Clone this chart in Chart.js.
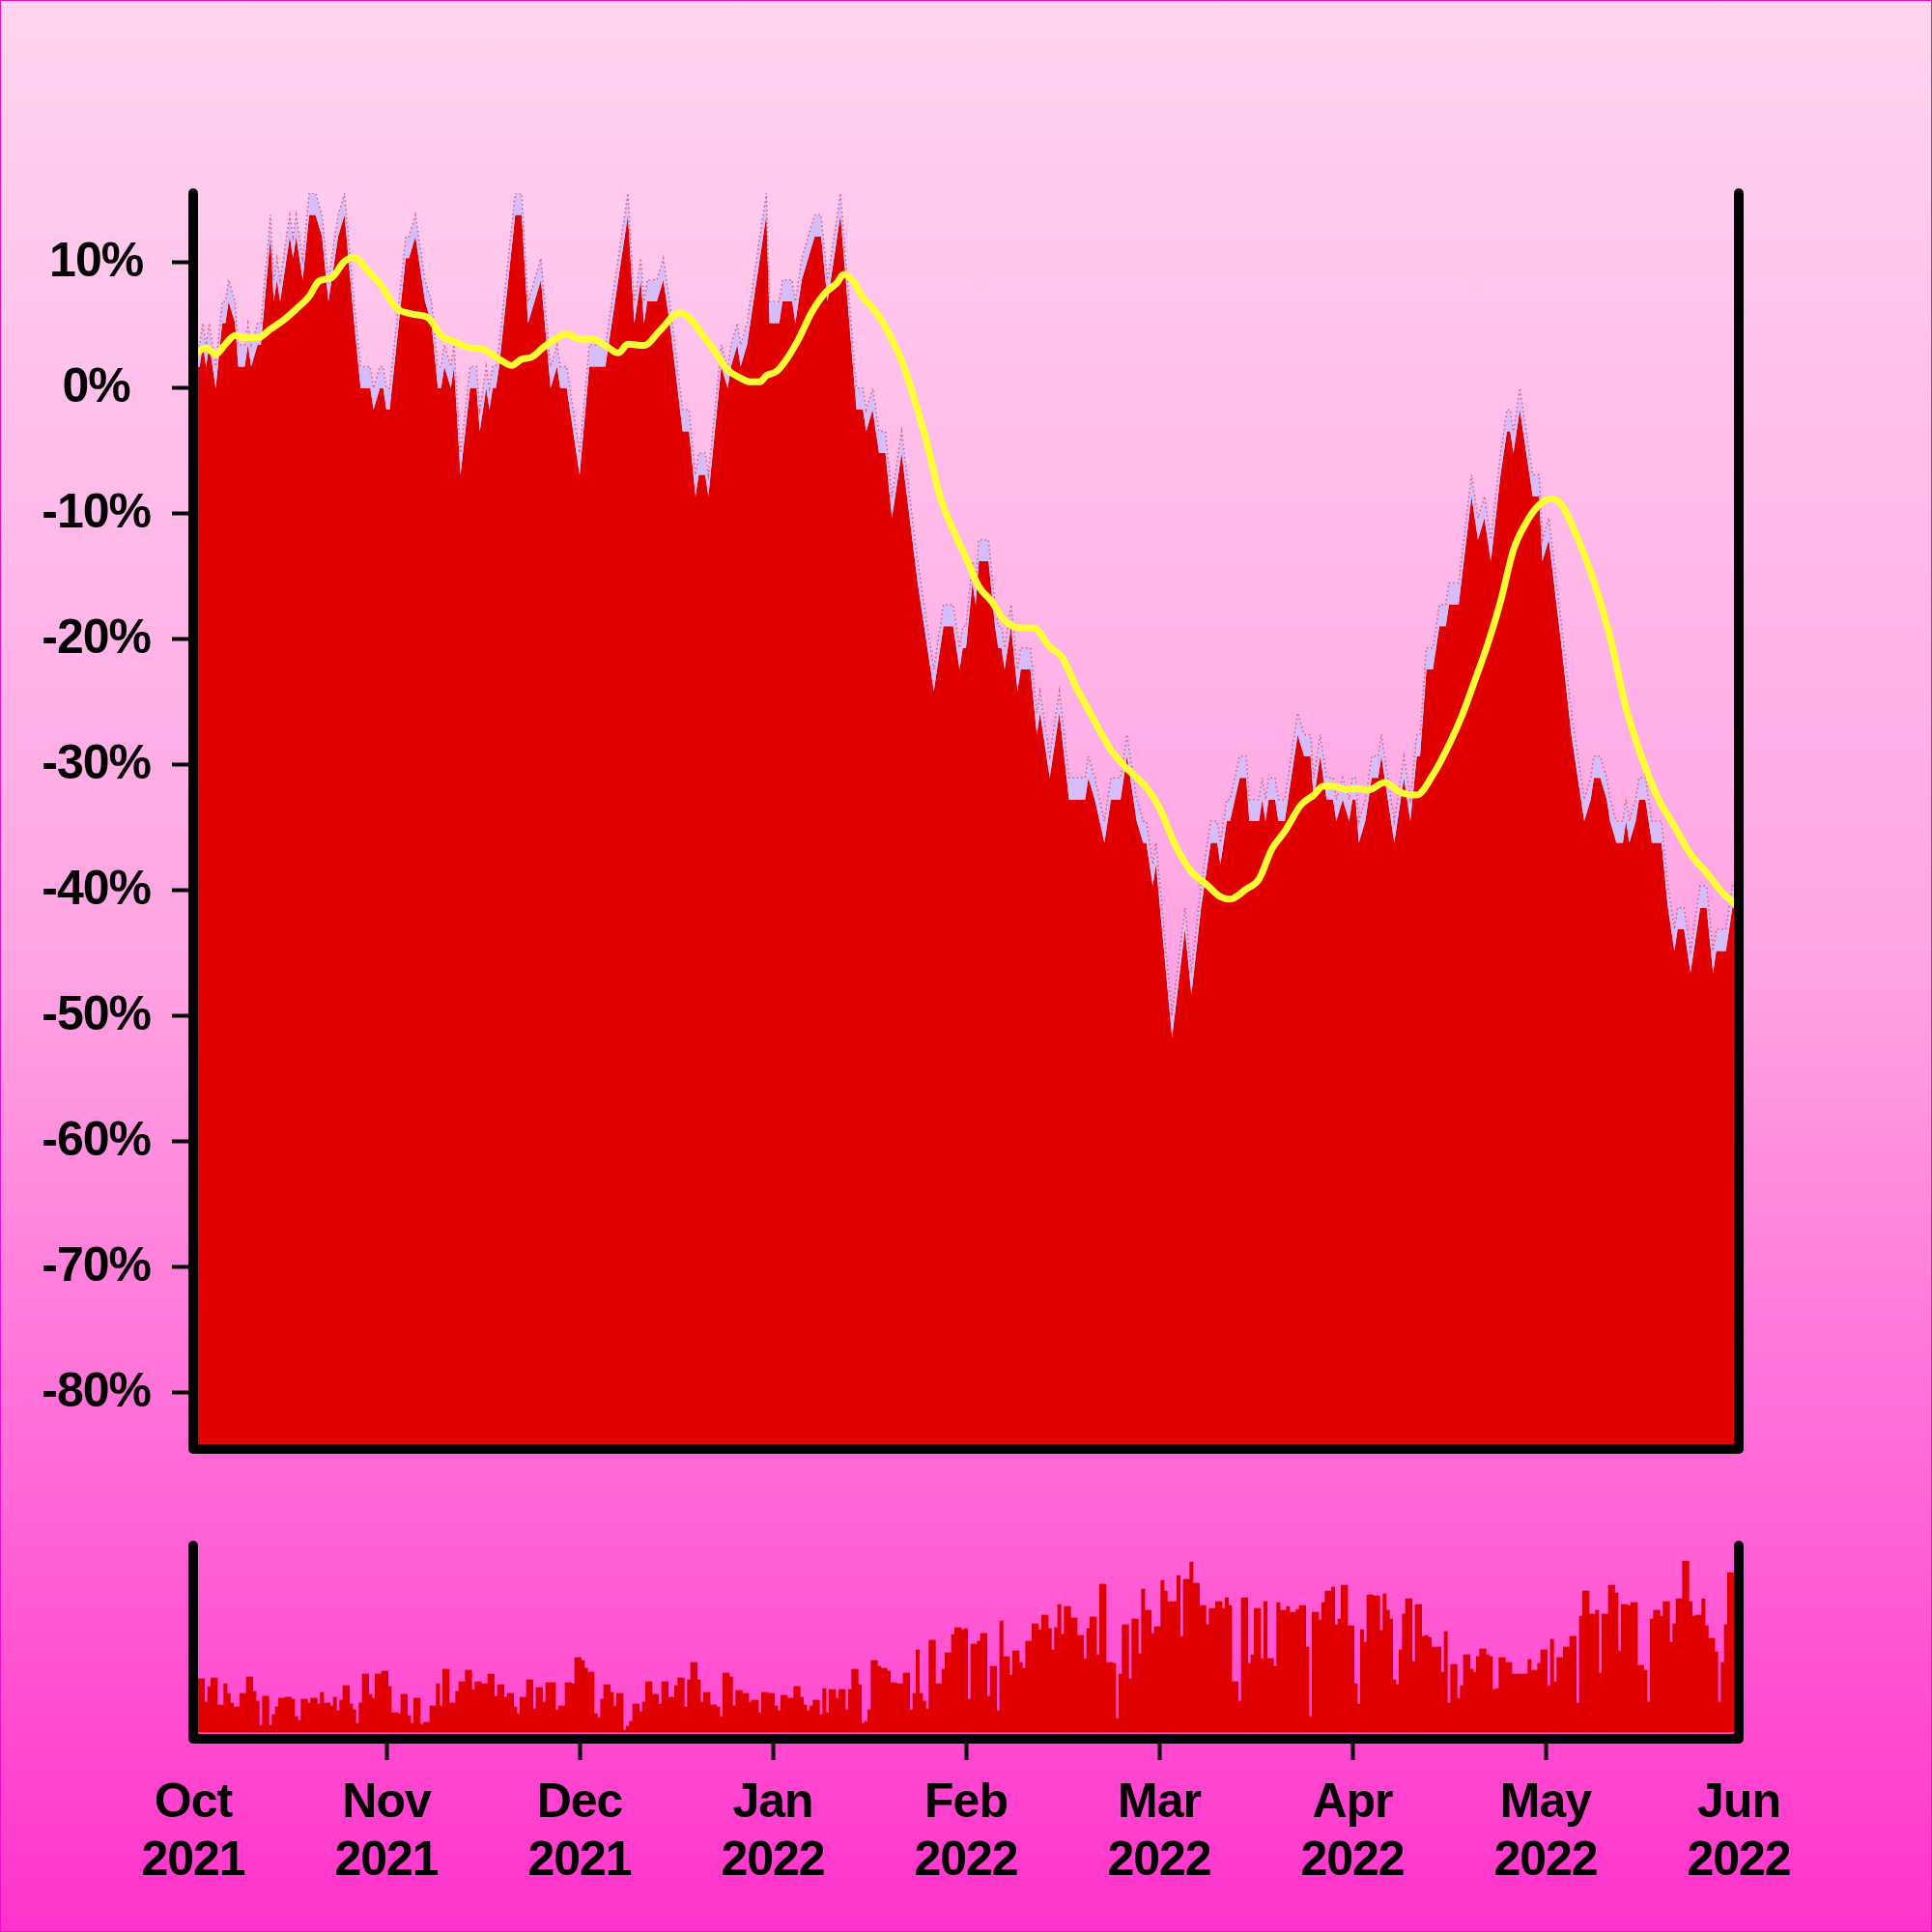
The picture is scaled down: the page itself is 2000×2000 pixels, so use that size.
<!DOCTYPE html>
<html><head><meta charset="utf-8">
<script src="https://cdn.jsdelivr.net/npm/chart.js@4.4.0/dist/chart.umd.min.js"></script>
<style>
html,body{margin:0;padding:0;}
#wrap{position:relative;width:2000px;height:2000px;background:linear-gradient(to bottom,#ffd4f0 0%,#ffa4e3 50%,#ff33cc 100%);overflow:hidden}
canvas{position:absolute;left:0;top:0}
#frame{position:absolute;left:0;top:0;width:2000px;height:2000px;box-sizing:border-box;border:1px solid #ee10c8;pointer-events:none}
</style></head><body>
<div id="wrap"><canvas id="c1" width="2000" height="2000"></canvas><canvas id="c2" width="2000" height="2000"></canvas><div id="frame"></div></div>
<script>
const yTicks = [10,0,-10,-20,-30,-40,-50,-60,-70,-80];
const xTickIdx = [0,60,120,180,240,300,360,420,480];
const xTickLabels = [["Oct","2021"],["Nov","2021"],["Dec","2021"],["Jan","2022"],["Feb","2022"],["Mar","2022"],["Apr","2022"],["May","2022"],["Jun","2022"]];

// vertices of the high / low band (index = half-day step from 1 Oct 2021)
const hiIdx = [0,2,3,4,5,7,9,10,11,13,14,16,17,18,20,21,24,25,26,27,
30,31,32,34,36,38,40,42,43,44,45,47,50,52,55,56,58,59,60,61,
66,67,69,72,74,76,77,78,80,81,83,86,88,89,91,92,93,94,95,100,
102,104,106,108,111,113,114,116,118,120,123,128,130,133,135,137,139,140,141,144,
146,148,152,154,156,157,159,160,164,166,167,169,170,172,174,178,179,182,183,186,
187,188,189,191,193,195,197,198,201,206,208,209,211,213,215,217,220,225,229,230,
233,236,238,239,240,242,243,244,247,249,250,251,252,254,256,257,260,262,263,266,
267,269,272,277,278,280,283,285,288,290,293,295,296,298,299,304,308,310,313,316,
318,319,321,322,325,327,328,331,332,333,334,336,337,339,340,343,345,347,348,350,
352,354,355,357,359,360,361,362,364,366,368,369,372,373,376,378,380,381,383,385,
387,389,390,393,397,399,401,403,406,408,409,410,412,416,418,419,421,425,428,431,
432,434,435,437,439,440,442,444,445,446,448,449,451,453,456,458,460,461,463,465,
466,468,470,472,473,476,478,480];
const hiVal = [3.45,3.45,5.17,3.45,5.17,1.72,6.90,6.90,8.62,6.90,3.45,3.45,5.17,3.45,5.17,5.17,13.79,8.62,10.34,8.62,
13.79,12.07,13.79,10.34,15.52,15.52,13.79,8.62,10.34,12.07,13.79,15.52,6.90,1.72,1.72,0,1.72,1.72,0,0,
12.07,12.07,13.79,8.62,6.90,1.72,1.72,3.45,1.72,3.45,-5.17,1.72,1.72,-1.72,1.72,0,1.72,1.72,3.45,15.52,
15.52,6.90,8.62,10.34,1.72,3.45,1.72,1.72,-1.72,-5.17,3.45,3.45,6.90,12.07,15.52,6.90,10.34,6.90,8.62,8.62,
10.34,6.90,-1.72,-1.72,-6.90,-5.17,-5.17,-6.90,3.45,1.72,3.45,5.17,3.45,5.17,8.62,15.52,6.90,6.90,8.62,8.62,
6.90,8.62,10.34,12.07,13.79,13.79,8.62,10.34,15.52,0,0,-1.72,0,-3.45,-3.45,-8.62,-3.45,-13.79,-20.69,-22.41,
-17.24,-17.24,-20.69,-18.97,-18.97,-13.79,-15.52,-12.07,-12.07,-17.24,-18.97,-18.97,-20.69,-17.24,-22.41,-20.69,-20.69,-25.86,-24.14,-29.31,
-27.59,-24.14,-31.03,-31.03,-29.31,-31.03,-34.48,-31.03,-31.03,-27.59,-32.76,-34.48,-34.48,-37.93,-36.21,-50.00,-41.38,-46.55,-39.66,-34.48,
-34.48,-36.21,-32.76,-32.76,-29.31,-29.31,-32.76,-32.76,-31.03,-32.76,-31.03,-31.03,-32.76,-32.76,-31.03,-25.86,-27.59,-27.59,-31.03,-27.59,
-31.03,-31.03,-32.76,-31.03,-32.76,-31.03,-31.03,-34.48,-32.76,-29.31,-29.31,-27.59,-32.76,-34.48,-29.31,-32.76,-27.59,-27.59,-20.69,-20.69,
-17.24,-17.24,-15.52,-15.52,-6.90,-10.34,-8.62,-12.07,-5.17,-1.72,-1.72,-3.45,0,-6.90,-6.90,-12.07,-10.34,-18.97,-25.86,-31.03,
-32.76,-31.03,-29.31,-29.31,-31.03,-32.76,-34.48,-34.48,-32.76,-34.48,-32.76,-31.03,-31.03,-34.48,-34.48,-39.66,-43.10,-41.38,-41.38,-44.83,
-43.10,-39.66,-39.66,-44.83,-43.10,-43.10,-39.66,-39.66];
const loVal = [1.72,1.72,3.45,1.72,3.45,0,5.17,5.17,6.90,5.17,1.72,1.72,3.45,1.72,3.45,3.45,12.07,6.90,8.62,6.90,
12.07,10.34,12.07,8.62,13.79,13.79,12.07,6.90,8.62,10.34,12.07,13.79,5.17,0,0,-1.72,0,0,-1.72,-1.72,
10.34,10.34,12.07,6.90,5.17,0,0,1.72,0,1.72,-6.90,0,0,-3.45,0,-1.72,0,0,1.72,13.79,
13.79,5.17,6.90,8.62,0,1.72,0,0,-3.45,-6.90,1.72,1.72,5.17,10.34,13.79,5.17,8.62,5.17,6.90,6.90,
8.62,5.17,-3.45,-3.45,-8.62,-6.90,-6.90,-8.62,1.72,0,1.72,3.45,1.72,3.45,6.90,13.79,5.17,5.17,6.90,6.90,
5.17,6.90,8.62,10.34,12.07,12.07,6.90,8.62,13.79,-1.72,-1.72,-3.45,-1.72,-5.17,-5.17,-10.34,-5.17,-15.52,-22.41,-24.14,
-18.97,-18.97,-22.41,-20.69,-20.69,-15.52,-17.24,-13.79,-13.79,-18.97,-20.69,-20.69,-22.41,-18.97,-24.14,-22.41,-22.41,-27.59,-25.86,-31.03,
-29.31,-25.86,-32.76,-32.76,-31.03,-32.76,-36.21,-32.76,-32.76,-29.31,-34.48,-36.21,-36.21,-39.66,-37.93,-51.72,-43.10,-48.28,-41.38,-36.21,
-36.21,-37.93,-34.48,-34.48,-31.03,-31.03,-34.48,-34.48,-32.76,-34.48,-32.76,-32.76,-34.48,-34.48,-32.76,-27.59,-29.31,-29.31,-32.76,-29.31,
-32.76,-32.76,-34.48,-32.76,-34.48,-32.76,-32.76,-36.21,-34.48,-31.03,-31.03,-29.31,-34.48,-36.21,-31.03,-34.48,-29.31,-29.31,-22.41,-22.41,
-18.97,-18.97,-17.24,-17.24,-8.62,-12.07,-10.34,-13.79,-6.90,-3.45,-3.45,-5.17,-1.72,-8.62,-8.62,-13.79,-12.07,-20.69,-27.59,-32.76,
-34.48,-32.76,-31.03,-31.03,-32.76,-34.48,-36.21,-36.21,-34.48,-36.21,-34.48,-32.76,-32.76,-36.21,-36.21,-41.38,-44.83,-43.10,-43.10,-46.55,
-44.83,-41.38,-41.38,-46.55,-44.83,-44.83,-41.38,-41.38];

// moving average (yellow)
const maIdx = [0,4,7,10,13,16,20,24,28,32,36,39,43,47,50,54,58,63,68,73,77,82,86,90,95,99,102,105,109,113,
116,120,124,128,132,135,140,145,151,154,158,162,166,170,173,176,178,181,184,188,192,196,200,202,205,208,211,215,220,224,
228,232,236,240,244,248,252,257,261,266,270,274,278,282,285,290,296,300,305,310,315,319,322,327,331,335,339,344,348,351,
354,358,362,365,370,375,380,385,390,394,398,402,406,410,414,418,422,425,430,435,440,445,450,455,460,465,470,475,480];
const maVal = [2.6,3.2,2.7,3.5,4.2,4.0,4.0,4.7,5.4,6.3,7.3,8.5,8.8,10.1,10.4,9.4,8.3,6.4,5.9,5.6,4.2,3.6,3.2,3.1,2.3,1.8,2.3,2.45,3.3,4.0,
4.3,3.9,3.9,3.4,2.8,3.5,3.4,4.6,6.0,5.6,4.3,2.9,1.45,0.8,0.5,0.5,1.0,1.3,2.2,3.9,6.0,7.5,8.4,9.05,8.5,7.2,6.4,4.85,2.2,-0.9,
-4.5,-8.7,-11.3,-13.5,-15.8,-17.0,-18.5,-19.1,-19.1,-20.6,-21.5,-23.7,-25.6,-27.5,-28.8,-30.3,-31.8,-33.4,-36.4,-38.5,-39.6,-40.5,-40.7,-39.9,-39.1,-36.7,-35.3,-33.2,-32.4,-31.7,
-31.7,-31.95,-31.9,-32.0,-31.4,-32.2,-32.4,-30.8,-28.4,-26.1,-23.3,-20.4,-17.0,-12.9,-10.7,-9.3,-8.8,-9.3,-12.0,-15.4,-19.8,-25.5,-29.5,-32.7,-34.9,-37.1,-38.6,-40.2,-41.3];

// volume, one bar per index step
const volume = [55,55,55,55,31,47,56,56,28,28,50,40,30,26,26,40,40,57,57,42,
32,7,37,37,7,18,26,35,35,36,36,34,16,12,34,34,30,35,35,29,
41,30,30,27,36,22,33,48,48,29,23,9,30,60,60,39,35,60,60,63,
63,47,20,20,19,39,39,17,9,35,35,8,10,10,27,27,50,27,65,65,
30,30,42,52,52,64,64,44,52,52,50,50,60,60,37,49,49,36,40,40,
26,19,36,36,54,54,24,46,46,31,51,51,51,23,27,27,51,51,50,77,
77,74,66,62,62,19,15,34,49,49,41,27,40,40,2,6,11,29,29,21,
31,52,52,39,39,29,52,52,36,36,48,56,56,26,54,72,72,54,31,41,
41,28,28,26,16,61,61,57,27,43,43,40,40,31,33,33,20,41,41,40,
40,27,22,38,38,35,35,47,47,36,28,22,27,33,33,18,45,20,44,44,
35,44,44,23,44,65,65,49,9,11,23,74,74,68,66,66,63,51,51,50,
50,61,61,23,40,85,40,32,24,95,95,50,50,65,82,82,101,108,108,106,
107,34,91,91,94,102,102,37,68,68,22,115,78,78,59,84,84,72,66,94,
94,112,112,106,121,121,107,85,108,132,101,130,130,118,118,100,100,76,107,119,
119,80,153,153,72,72,71,14,60,111,111,55,117,117,81,148,126,126,102,109,
109,157,146,135,135,135,162,99,158,158,176,154,154,131,131,111,128,128,135,135,
128,139,131,52,52,32,139,139,71,80,128,128,76,135,76,76,68,134,126,126,
130,124,124,127,131,131,88,16,124,124,116,134,146,146,150,111,117,152,152,110,
110,50,29,106,93,142,142,141,141,105,143,126,117,54,49,85,122,138,138,73,
132,132,99,100,98,88,88,88,62,104,30,70,70,35,48,80,80,65,62,78,
86,86,80,78,44,45,77,77,72,72,60,60,60,60,60,75,64,64,71,85,
85,48,96,52,77,77,88,88,99,99,30,120,146,146,122,122,126,61,122,122,
152,152,144,84,132,132,131,134,134,69,69,64,31,117,126,126,120,135,135,93,
112,138,138,177,177,135,120,121,121,138,110,97,97,83,31,72,111,165,165,157,157];

const FONT = "'Liberation Sans', Arial, Helvetica, sans-serif";
Chart.defaults.font.family = FONT;
const RED = '#e10000';

const frame = {
  id: 'frame',
  beforeDraw(chart) { chart.ctx.letterSpacing = '-1px'; },
  afterDraw(chart) {
    const {ctx, chartArea: a} = chart;
    ctx.save();
    ctx.lineWidth = 10; ctx.lineCap = 'round'; ctx.lineJoin = 'round'; ctx.strokeStyle = '#000';
    ctx.beginPath();
    ctx.moveTo(a.left, a.top); ctx.lineTo(a.left, a.bottom); ctx.lineTo(a.right, a.bottom); ctx.lineTo(a.right, a.top);
    ctx.stroke();
    ctx.restore();
  }
};

new Chart(document.getElementById('c1'), {
  type: 'line',
  data: { datasets: [
    { data: maIdx.map((x, k) => ({x, y: maVal[k]})), borderColor: '#ffff33', borderWidth: 7, pointRadius: 0,
      tension: 0.4, cubicInterpolationMode: 'monotone', fill: false, order: 0 },
    { data: hiIdx.map((x, k) => ({x, y: hiVal[k]})), borderColor: 'rgba(225,0,0,0.55)', borderWidth: 1.5, borderDash: [1.5, 3],
      pointRadius: 0, tension: 0, fill: '+1', backgroundColor: '#d6bdfa', order: 1 },
    { data: hiIdx.map((x, k) => ({x, y: loVal[k]})), borderWidth: 0, borderColor: 'rgba(0,0,0,0)', pointRadius: 0,
      tension: 0, fill: 'start', backgroundColor: RED, order: 2 }
  ]},
  options: {
    responsive: false, animation: false, devicePixelRatio: 1,
    layout: { padding: { left: 0, right: 200, top: 200, bottom: 500 } },
    plugins: { legend: { display: false }, tooltip: { enabled: false } },
    scales: {
      x: { type: 'linear', min: 0, max: 480, display: false },
      y: { min: -84.48, max: 15.52,
        afterFit: s => { s.width = 200; },
        afterBuildTicks: s => { s.ticks = yTicks.map(v => ({value: v})); },
        ticks: { callback: v => v + '%', color: '#000', font: { size: 50, weight: 'bold' }, padding: 20, crossAlign: 'center' },
        grid: { drawOnChartArea: false, drawTicks: true, tickLength: 22, tickWidth: 4, tickColor: '#000' },
        border: { display: false } }
    }
  },
  plugins: [frame]
});

new Chart(document.getElementById('c2'), {
  type: 'bar',
  data: { datasets: [
    { data: volume.map((v, i) => ({x: i, y: v})), backgroundColor: RED, borderWidth: 0,
      barPercentage: 1, categoryPercentage: 1 }
  ]},
  options: {
    responsive: false, animation: false, devicePixelRatio: 1,
    layout: { padding: { left: 200, right: 200, top: 1600, bottom: 0 } },
    plugins: { legend: { display: false }, tooltip: { enabled: false } },
    scales: {
      x: { type: 'linear', min: 0, max: 480, offset: false,
        afterFit: s => { s.height = 200; },
        afterBuildTicks: s => { s.ticks = xTickIdx.map(v => ({value: v})); },
        ticks: { autoSkip: false, maxRotation: 0, callback: (v, i) => xTickLabels[i], color: '#000',
          font: { size: 50, weight: 'bold', lineHeight: 1.2 }, padding: 15 },
        grid: { offset: false, drawOnChartArea: false, tickLength: 22, tickWidth: 4,
          tickColor: c => (c.index === 0 || c.index === xTickIdx.length - 1) ? 'rgba(0,0,0,0)' : '#000' },
        border: { display: false } },
      y: { display: false, min: -7, max: 193 }
    }
  },
  plugins: [frame]
});
</script>
</body></html>
